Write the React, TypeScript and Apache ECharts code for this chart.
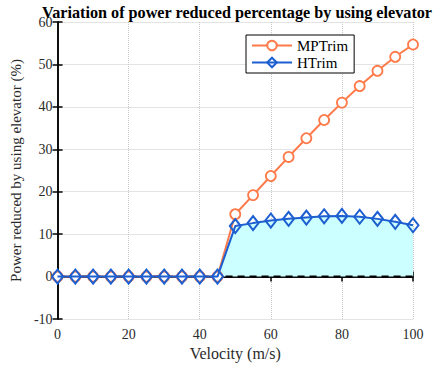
import React, { useEffect, useRef } from "react";
import * as echarts from "echarts";

const velocity = [0, 5, 10, 15, 20, 25, 30, 35, 40, 45, 50, 55, 60, 65, 70, 75, 80, 85, 90, 95, 100];
const mpTrim = [0, 0, 0, 0, 0, 0, 0, 0, 0, 0, 14.7, 19.2, 23.7, 28.2, 32.6, 36.9, 41.0, 44.9, 48.5, 51.8, 54.7];
const hTrim = [0, 0, 0, 0, 0, 0, 0, 0, 0, 0, 11.9, 12.6, 13.2, 13.6, 13.9, 14.2, 14.3, 14.1, 13.6, 12.9, 12.1];
const zeroLine = [0, 100];

const FONT = "'Liberation Serif', 'Times New Roman', Times, serif";
const ORANGE = "#ff7a4a";
const BLUE = "#1d5fd0";

export default function App() {
  const ref = useRef<HTMLDivElement>(null);
  useEffect(() => {
    if (!ref.current) return;
    const chart = echarts.init(ref.current, undefined, { renderer: "svg" });
    const axisCommon = {
      type: "value" as const,
      axisLine: { show: true, lineStyle: { color: "#000", width: 1.5 } },
      axisTick: { show: true, inside: true, length: 5, lineStyle: { color: "#000", width: 1.5 } },
    };
    const labelStyle = { fontFamily: FONT, fontSize: 14, fontWeight: "normal" as const, color: "#2a2a2a" };
    chart.setOption({
      animation: false,
      backgroundColor: "#fff",
      textStyle: { fontFamily: FONT },
      title: {
        text: "Variation of power reduced percentage by using elevator",
        left: 232,
        textAlign: "center",
        top: 0,
        textStyle: { fontFamily: FONT, fontSize: 16.2, fontWeight: "bold", color: "#000" },
      },
      legend: {
        data: ["MPTrim", "HTrim"],
        orient: "vertical",
        left: 246,
        top: 35,
        itemWidth: 40,
        itemHeight: 12,
        itemGap: 2,
        padding: [3, 6, 3, 5],
        borderColor: "#000",
        borderWidth: 1,
        backgroundColor: "#fff",
        textStyle: { fontFamily: FONT, fontSize: 15, color: "#000" },
      },
      grid: { left: 56, right: 22, top: 22, bottom: 50 },
      xAxis: [
        {
          ...axisCommon,
          min: 0,
          max: 100,
          interval: 20,
          name: "Velocity (m/s)",
          nameLocation: "middle",
          nameGap: 23,
          nameTextStyle: { ...labelStyle, fontSize: 16 },
          axisLabel: { ...labelStyle, margin: 8 },
          splitLine: { show: true, lineStyle: { color: "#c8c8c8", type: "dotted", width: 1 } },
        },
        {
          ...axisCommon,
          position: "top",
          min: 0,
          max: 100,
          interval: 20,
          axisLabel: { show: false },
          splitLine: { show: false },
        },
      ],
      yAxis: [
        {
          ...axisCommon,
          min: -10,
          max: 60,
          interval: 10,
          name: "Power reduced by using elevator (%)",
          nameLocation: "middle",
          nameGap: 27,
          nameTextStyle: { ...labelStyle, fontSize: 15 },
          axisLabel: { ...labelStyle, margin: 5 },
          splitLine: { show: true, lineStyle: { color: "#c8c8c8", type: "dotted", width: 1 } },
        },
        {
          ...axisCommon,
          position: "right",
          min: -10,
          max: 60,
          interval: 10,
          axisLabel: { show: false },
          splitLine: { show: false },
        },
      ],
      series: [
        {
          name: "fill",
          type: "line",
          data: velocity.map((v, i) => [v, hTrim[i]]),
          symbol: "none",
          silent: true,
          z: 2,
          lineStyle: { width: 0, opacity: 0 },
          areaStyle: { color: "#ccffff", opacity: 1, origin: 0 },
        },
        {
          name: "zero",
          type: "line",
          data: zeroLine.map((x) => [x, 0]),
          symbol: "none",
          silent: true,
          z: 3,
          lineStyle: { color: "#000", width: 2, type: [7, 5] },
        },
        {
          name: "MPTrim",
          type: "line",
          data: velocity.map((v, i) => [v, mpTrim[i]]),
          symbol: "circle",
          symbolSize: 10,
          showAllSymbol: true,
          clip: false,
          z: 4,
          itemStyle: { color: "#fff", borderColor: ORANGE, borderWidth: 1.8 },
          lineStyle: { color: ORANGE, width: 2 },
        },
        {
          name: "HTrim",
          type: "line",
          data: velocity.map((v, i) => [v, hTrim[i]]),
          symbol: "diamond",
          symbolSize: [11, 14],
          showAllSymbol: true,
          clip: false,
          z: 5,
          itemStyle: { color: "rgba(255,255,255,0)", borderColor: BLUE, borderWidth: 2 },
          lineStyle: { color: BLUE, width: 2 },
        },
      ],
    });
    return () => chart.dispose();
  }, []);
  return <div ref={ref} style={{ width: 435, height: 369, position: "absolute", left: 0, top: 0 }} />;
}
